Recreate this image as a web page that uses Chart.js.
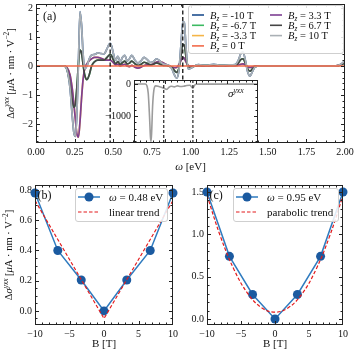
<!DOCTYPE html>
<html><head><meta charset="utf-8">
<script src="https://cdn.jsdelivr.net/npm/chart.js@4.4.1/dist/chart.umd.min.js"></script>
<style>
html,body{margin:0;padding:0;background:#fff;}
body{width:357px;height:356px;position:relative;overflow:hidden;}
canvas{position:absolute;display:block;}
</style></head><body>
<canvas id="cA" width="357" height="175" style="left:0px;top:0px;width:357px;height:175px"></canvas>
<canvas id="cB" width="180" height="181" style="left:0px;top:175px;width:180px;height:181px"></canvas>
<canvas id="cC" width="177" height="181" style="left:180px;top:175px;width:177px;height:181px"></canvas>
<canvas id="cI" width="170" height="72" style="left:95px;top:76px;width:170px;height:72px"></canvas>
<script>
// ---------------- DATA ----------------
const fieldLabels = ['-10', '-6.7', '-3.3', '0', '3.3', '6.7', '10'];
const markFreqs = [0.48, 0.95];

const omega = [0.00,0.10,0.18,0.20,0.22,0.235,0.245,0.255,0.265,0.275,
  0.285,0.295,0.305,0.315,0.33,0.345,0.36,0.38,0.40,0.42,
  0.44,0.46,0.47,0.48,0.49,0.50,0.515,0.53,0.545,0.56,
  0.575,0.59,0.605,0.62,0.64,0.66,0.68,0.70,0.72,0.74,
  0.76,0.78,0.80,0.82,0.84,0.86,0.88,0.895,0.91,0.925,
  0.94,0.95,0.96,0.97,0.985,1.00,1.05,1.10,1.15,1.20,
  1.25,1.29,1.31,1.325,1.34,1.355,1.37,1.385,1.40,1.42,
  1.45,1.60,1.80,1.93,1.97,2.00];
const dS_10 = [0,0,0,-0.12,-0.75,-1.75,-2.3,-2.43,-1.6,0.2,
  1.88,1.4,0.4,-0.1,0.0,0.25,0.38,0.4,0.45,0.43,
  0.42,0.6,0.72,0.78,0.68,0.45,0.2,0.33,0.15,0.3,
  0.37,0.18,0.25,0.37,0.2,0.1,0.18,0.3,0.22,0.12,
  0.15,0.25,0.18,0.08,0.05,0.02,-0.1,-0.3,-0.42,-0.15,
  0.85,1.52,1.5,0.7,-0.1,-0.08,0.05,0.02,0.06,0.02,
  0.04,0.05,0.2,0.42,0.48,0.2,-0.2,-0.35,-0.2,-0.02,
  0,0,0,0,0.05,0.18];
const dS_6p7 = [0,0,0,-0.1,-0.6,-1.2,-1.42,-1.3,-0.7,0.1,
  0.55,0.45,0.05,-0.3,-0.47,-0.3,0.0,0.15,0.2,0.2,
  0.2,0.3,0.36,0.40,0.35,0.22,0.08,0.15,0.05,0.12,
  0.17,0.07,0.1,0.17,0.08,0.02,0.06,0.13,0.09,0.04,
  0.06,0.11,0.07,0.03,0.02,0.0,-0.05,-0.15,-0.22,-0.08,
  0.42,0.74,0.72,0.35,-0.05,-0.04,0.02,0.01,0.03,0.01,
  0.02,0.02,0.1,0.22,0.25,0.1,-0.1,-0.18,-0.1,-0.01,
  0,0,0,0,0.03,0.1];
const dS_3p3 = [0,0,0,-0.05,-0.3,-0.8,-1.3,-1.85,-2.35,-2.45,
  -1.9,-1.1,-0.45,-0.1,0.08,0.18,0.25,0.3,0.3,0.27,
  0.22,0.2,0.2,0.2,0.17,0.12,0.04,0.06,0.0,0.04,
  0.06,0.0,-0.02,0.02,-0.04,-0.07,-0.04,0.02,0.04,0.03,
  0.08,0.14,0.15,0.12,0.06,0.0,-0.04,-0.06,-0.05,0.05,
  0.2,0.29,0.27,0.15,0.02,0.0,0.01,0.0,0.01,0.0,
  0.01,0.01,0.03,0.06,0.07,0.03,-0.03,-0.05,-0.03,0,
  0,0,0,0,0.04,0.15];
const omegaZero = [0.00, 2.00];
const dS_0 = [0, 0];

const omegaInset = [0.00,0.18,0.21,0.23,0.25,0.265,0.275,0.285,0.30,0.32,
  0.35,0.40,0.45,0.50,0.53,0.56,0.60,0.65,0.70,0.75,
  0.80,0.85,0.90,0.93,0.95,0.97,1.00,1.05,1.50,2.00];
const sigmaInset = [0,0,-60,-300,-1000,-1650,-1800,-1500,-700,-200,
  -60,-80,-110,-150,-170,-110,-70,-90,-60,-80,
  -70,-50,-40,-90,-130,-60,-10,-5,-5,-5];

const fieldB = [-10, -6.7, -3.3, 0, 3.3, 6.7, 10];
const dS_048 = [0.78, 0.40, 0.205, 0.0, 0.205, 0.40, 0.78];
const dS_095 = [1.50, 0.74, 0.29, 0.0, 0.29, 0.74, 1.50];
const linTrendB = [-10, 0, 10];
const linTrendV = [0.73, -0.05, 0.73];
const paraTrendB = [-10, -8, -6, -4, -2, 0, 2, 4, 6, 8, 10];
const paraTrendV = [1.46, 0.97, 0.58, 0.30, 0.135, 0.08, 0.135, 0.30, 0.58, 0.97, 1.46];

const mainXTicks = [0, 0.25, 0.5, 0.75, 1, 1.25, 1.5, 1.75, 2];
const mainYTicks = [-2, -1, 0, 1, 2];
const insetXTicks = [0, 0.5, 1, 1.5, 2];
const insetYTicks = [-1000, 0];
const fieldTicks = [-10, -5, 0, 5, 10];
const bYTicks = [0, 0.2, 0.4, 0.6, 0.8];
const cYTicks = [0, 0.5, 1.0, 1.5];

// ---------------- STYLE ----------------
const FONT = '"Liberation Serif","DejaVu Serif",serif';
const INK = '#111111';
const seriesColors = ['#1e4f8f', '#3cba62', '#f5b548', '#f26b4b', '#7d3f93', '#454545', '#aab0b5'];
const seriesOrder = [7, 6, 5, 0, 3, 2, 1];
const seriesData = [dS_10, dS_6p7, dS_3p3, null, dS_3p3, dS_6p7, dS_10];
Chart.defaults.font.family = FONT;
Chart.defaults.color = INK;

// ---------------- HELPERS ----------------
function fontStr(sz, it) { return (it ? 'italic ' : '') + sz + 'px ' + FONT; }
function layoutRich(ctx, segs, size) {
  let w = 0; const out = [];
  for (const [t, st = ''] of segs) {
    const it = st.includes('i'), sub = st.includes('_'), sup = st.includes('^');
    const sz = (sub || sup) ? size * 0.7 : size;
    ctx.font = fontStr(sz, it);
    const tw = ctx.measureText(t).width;
    out.push({ t, it, sz, dy: sub ? size * 0.22 : sup ? -size * 0.4 : 0, w: tw });
    w += tw;
  }
  return { w, out };
}
function drawRich(ctx, segs, x, y, size, align) {
  const m = layoutRich(ctx, segs, size);
  let cx = align === 'center' ? x - m.w / 2 : align === 'right' ? x - m.w : x;
  ctx.save();
  ctx.fillStyle = INK; ctx.textBaseline = 'alphabetic'; ctx.textAlign = 'left';
  for (const s of m.out) { ctx.font = fontStr(s.sz, s.it); ctx.fillText(s.t, cx, y + s.dy); cx += s.w; }
  ctx.restore();
  return m.w;
}
function drawRichRotated(ctx, segs, cx, cy, size) {
  ctx.save(); ctx.translate(cx, cy); ctx.rotate(-Math.PI / 2);
  drawRich(ctx, segs, 0, size * 0.35, size, 'center');
  ctx.restore();
}
function roundBox(ctx, x, y, w, h, r) {
  ctx.save();
  ctx.beginPath();
  ctx.moveTo(x + r, y); ctx.lineTo(x + w - r, y); ctx.arcTo(x + w, y, x + w, y + r, r);
  ctx.lineTo(x + w, y + h - r); ctx.arcTo(x + w, y + h, x + w - r, y + h, r);
  ctx.lineTo(x + r, y + h); ctx.arcTo(x, y + h, x, y + h - r, r);
  ctx.lineTo(x, y + r); ctx.arcTo(x, y, x + r, y, r); ctx.closePath();
  ctx.fillStyle = 'rgba(255,255,255,0.85)'; ctx.fill();
  ctx.strokeStyle = '#cfcfcf'; ctx.lineWidth = 1; ctx.stroke();
  ctx.restore();
}
const fixAxis = n => s => {
  if (s.isHorizontal()) s.height = n; else s.width = n;
  s.paddingTop = 0; s.paddingBottom = 0; s.paddingLeft = 0; s.paddingRight = 0;
};
const setTicks = arr => s => { s.ticks = arr.map(v => ({ value: v })); };
const fmt = d => v => (v < 0 ? '−' : '') + Math.abs(v).toFixed(d);
const pts = (xs, ys) => xs.map((x, i) => ({ x, y: ys[i] }));

function makeFrame(xMinor, yMinor, fillWhite) {
  return {
    id: 'frame',
    beforeDraw(chart) {
      if (!fillWhite) return;
      const a = chart.chartArea, ctx = chart.ctx;
      ctx.save(); ctx.fillStyle = '#fff';
      ctx.fillRect(a.left, a.top, a.right - a.left, a.bottom - a.top); ctx.restore();
    },
    afterDraw(chart) {
      const { ctx, chartArea: a, scales: { x, y } } = chart;
      ctx.save(); ctx.strokeStyle = '#222'; ctx.lineWidth = 1; ctx.setLineDash([]);
      const seg = (x1, y1, x2, y2) => { ctx.beginPath(); ctx.moveTo(x1, y1); ctx.lineTo(x2, y2); ctx.stroke(); };
      const L = a.left + 0.5, R = a.right - 0.5, T = a.top + 0.5, B = a.bottom - 0.5;
      const xt = (v, len) => { const p = Math.round(x.getPixelForValue(v)) + 0.5; if (p < L - 0.6 || p > R + 0.6) return; seg(p, B, p, B - len); seg(p, T, p, T + len); };
      const yt = (v, len) => { const p = Math.round(y.getPixelForValue(v)) + 0.5; if (p < T - 0.6 || p > B + 0.6) return; seg(L, p, L + len, p); seg(R, p, R - len, p); };
      const minors = (s, step) => { const o = []; const k0 = Math.ceil(s.min / step - 1e-6), k1 = Math.floor(s.max / step + 1e-6); for (let k = k0; k <= k1; k++) o.push(k * step); return o; };
      minors(x, xMinor).forEach(v => xt(v, 2));
      minors(y, yMinor).forEach(v => yt(v, 2));
      x.ticks.forEach(t => xt(t.value, 3.5));
      y.ticks.forEach(t => yt(t.value, 3.5));
      ctx.strokeRect(L, T, R - L, B - T);
      ctx.restore();
    }
  };
}
function makeVLines(values, width, dash) {
  return {
    id: 'vlines',
    afterDatasetsDraw(chart) {
      const { ctx, chartArea: a, scales: { x } } = chart;
      ctx.save(); ctx.strokeStyle = '#111'; ctx.lineWidth = width; ctx.setLineDash(dash);
      values.forEach(v => { const p = x.getPixelForValue(v); ctx.beginPath(); ctx.moveTo(p, a.top); ctx.lineTo(p, a.bottom); ctx.stroke(); });
      ctx.restore();
    }
  };
}
const tickFont = { family: FONT, size: 10 };
function linAxis(min, max, ticks, d, fitN, pad, show = true) {
  return {
    type: 'linear', min, max,
    grid: { display: false, drawTicks: false }, border: { display: false },
    afterBuildTicks: setTicks(ticks), afterFit: fixAxis(fitN),
    ticks: { display: show, padding: pad, font: tickFont, color: INK, autoSkip: false, maxRotation: 0, callback: fmt(d) }
  };
}
const yLabelSegs = [['Δ', ''], ['σ', 'i'], ['yxx', 'i^'], [' [', ''], ['μ', 'i'], ['A · nm · V', ''], ['−2', '^'], [']', '']];

// ---------------- PANEL (a) ----------------
const mainDatasets = fieldLabels.map((lab, i) => ({
  label: lab,
  data: i === 3 ? pts(omegaZero, dS_0) : pts(omega, seriesData[i]),
  borderColor: seriesColors[i], borderWidth: i === 3 ? 1.6 : 1.7,
  pointRadius: 0, cubicInterpolationMode: 'monotone', order: seriesOrder[i]
}));
const mainDecor = {
  id: 'mainDecor',
  afterDraw(chart) {
    const ctx = chart.ctx, a = chart.chartArea;
    drawRich(ctx, [['ω', 'i'], [' [eV]', '']], (a.left + a.right) / 2, 170, 11, 'center');
    drawRichRotated(ctx, yLabelSegs, 10, (a.top + a.bottom) / 2, 10.5);
    drawRich(ctx, [['(a)', '']], 43, 20, 12, 'left');
    roundBox(ctx, 188.5, 5.5, 155, 48, 2.5);
    fieldLabels.forEach((lab, i) => {
      const col = i < 4 ? 0 : 1, row = i < 4 ? i : i - 4;
      const lx = col ? 270 : 192, ly = 15 + row * 10.3;
      ctx.save(); ctx.strokeStyle = seriesColors[i]; ctx.lineWidth = 1.6;
      ctx.beginPath(); ctx.moveTo(lx, ly); ctx.lineTo(lx + 12, ly); ctx.stroke(); ctx.restore();
      drawRich(ctx, [['B', 'i'], ['z', 'i_'], [' = ' + lab + ' T', '']], lx + 18, ly + 3.5, 10.5, 'left');
    });
  }
};
new Chart(document.getElementById('cA'), {
  type: 'line',
  data: { datasets: mainDatasets },
  options: {
    responsive: false, animation: false, devicePixelRatio: 1,
    layout: { padding: { left: 0, top: 4, right: 12, bottom: 0 } },
    plugins: { legend: { display: false }, tooltip: { enabled: false } },
    scales: { x: linAxis(0, 2, mainXTicks, 2, 32, 3), y: linAxis(-2.655, 2.138, mainYTicks, 0, 36, 3) }
  },
  plugins: [makeVLines(markFreqs, 1.3, [4, 2.5]), makeFrame(0.0625, 0.2, false), mainDecor]
});

// ---------------- INSET ----------------
const insetDecor = {
  id: 'insetDecor',
  afterDraw(chart) {
    drawRich(chart.ctx, [['σ', 'i'], ['yxx', 'i^']], 133, 21, 11, 'left');
  }
};
new Chart(document.getElementById('cI'), {
  type: 'line',
  data: { datasets: [{ data: pts(omegaInset, sigmaInset), borderColor: '#9c9c9c', borderWidth: 1.6, pointRadius: 0, cubicInterpolationMode: 'monotone' }] },
  options: {
    responsive: false, animation: false, devicePixelRatio: 1,
    layout: { padding: { left: 0, top: 4, right: 7, bottom: 0 } },
    plugins: { legend: { display: false }, tooltip: { enabled: false } },
    scales: { x: linAxis(0, 2, insetXTicks, 2, 5, 3, false), y: linAxis(-1850, 125, insetYTicks, 0, 39, 3) }
  },
  plugins: [makeVLines(markFreqs, 1.1, [3, 2]), makeFrame(0.1, 200, true), insetDecor]
});

// ---------------- PANELS (b), (c) ----------------
function makeFieldDecor(tag, freq, trendName, boxX, showYLabel) {
  return {
    id: 'fieldDecor',
    afterDraw(chart) {
      const ctx = chart.ctx, a = chart.chartArea;
      drawRich(ctx, [['B [T]', '']], (a.left + a.right) / 2, 172, 11, 'center');
      if (showYLabel) drawRichRotated(ctx, yLabelSegs, 8.5, 80, 10.5);
      drawRich(ctx, [['(' + tag + ')', '']], a.left + 2.5, 24, 12, 'left');
      roundBox(ctx, boxX + 0.5, 13.5, boxX === 75 ? 92 : 105, 33, 2.5);
      const lx = boxX + 3, y1 = 22, y2 = 37;
      ctx.save();
      ctx.strokeStyle = '#2f7bbf'; ctx.lineWidth = 1.5;
      ctx.beginPath(); ctx.moveTo(lx, y1); ctx.lineTo(lx + 22, y1); ctx.stroke();
      ctx.fillStyle = '#1b5aa0'; ctx.beginPath(); ctx.arc(lx + 11, y1, 4.5, 0, Math.PI * 2); ctx.fill();
      ctx.strokeStyle = '#e41a1c'; ctx.lineWidth = 1.2; ctx.setLineDash([3.5, 2]);
      ctx.beginPath(); ctx.moveTo(lx, y2); ctx.lineTo(lx + 22, y2); ctx.stroke();
      ctx.restore();
      drawRich(ctx, [['ω', 'i'], [' = ' + freq.toFixed(2) + ' eV', '']], boxX + 34, y1 + 4, 11, 'left');
      drawRich(ctx, [[trendName, '']], boxX + 34, y2 + 4, 11, 'left');
    }
  };
}
function fieldChart(id, vals, trendX, trendY, trendTension, yMin, yMax, yTicks, yMinor, yFit, rightPad, decor) {
  new Chart(document.getElementById(id), {
    type: 'line',
    data: { datasets: [
      { data: pts(trendX, trendY), borderColor: '#e41a1c', borderWidth: 1.2, borderDash: [3.5, 2], pointRadius: 0, tension: trendTension, order: 0 },
      { data: pts(fieldB, vals), borderColor: '#2f7bbf', borderWidth: 1.5, pointRadius: 4.5, pointBackgroundColor: '#1b5aa0', pointBorderColor: '#1b5aa0', pointBorderWidth: 0, tension: 0, clip: false, order: 1 }
    ] },
    options: {
      responsive: false, animation: false, devicePixelRatio: 1,
      layout: { padding: { left: 0, top: 10, right: rightPad, bottom: 0 } },
      plugins: { legend: { display: false }, tooltip: { enabled: false } },
      scales: { x: linAxis(-10, 10, fieldTicks, 0, 31, 3), y: linAxis(yMin, yMax, yTicks, 1, yFit, 3) }
    },
    plugins: [makeFrame(1, yMinor, false), decor]
  });
}
fieldChart('cB', dS_048, linTrendB, linTrendV, 0, -0.093, 0.833, bYTicks, 0.05, 35, 7,
  makeFieldDecor('b', markFreqs[0], 'linear trend', 75, true));
fieldChart('cC', dS_095, paraTrendB, paraTrendV, 0.4, -0.071, 1.583, cYTicks, 0.1, 27, 14,
  makeFieldDecor('c', markFreqs[1], 'parabolic trend', 53, false));
</script>
</body></html>
